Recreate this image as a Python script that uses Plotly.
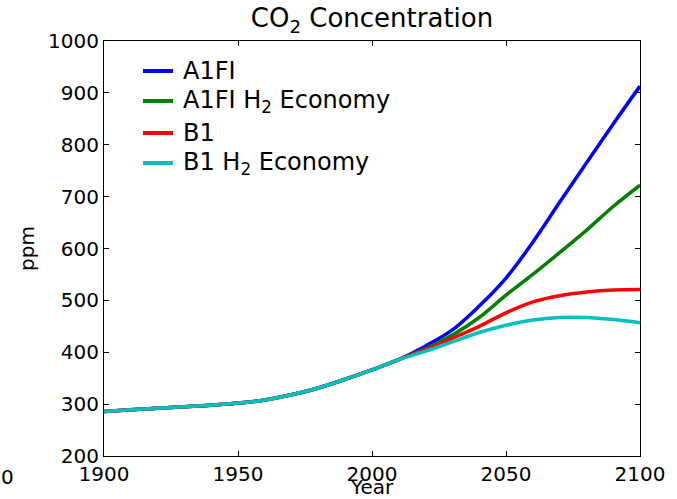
import plotly.graph_objects as go

# Historical record shared by every scenario (ppm)
hist_years = [1900, 1910, 1920, 1930, 1940, 1950, 1960, 1970, 1980, 1990, 2000, 2010]
hist_ppm = [286, 289, 292, 295, 298, 302, 308, 318, 331, 348, 366, 386]

# Scenario projections (ppm)
proj_years = [2020, 2030, 2040, 2050, 2060, 2070, 2080, 2090, 2100]
a1fi = [412, 443, 489, 543, 612, 689, 765, 840, 913]
a1fi_h2 = [407, 433, 467, 510, 550, 592, 635, 681, 722]
b1 = [405, 427, 450, 476, 497, 509, 516, 520, 521]
b1_h2 = [402, 420, 438, 452, 462, 467, 467, 463, 457]

series_names = ["A1FI", "A1FI H<sub>2</sub> Economy", "B1", "B1 H<sub>2</sub> Economy"]
series_colors = ["#0000ff", "#008000", "#ff0000", "#00bfbf"]
series_values = [a1fi, a1fi_h2, b1, b1_h2]

x_ticks = [1900, 1950, 2000, 2050, 2100]
y_ticks = [200, 300, 400, 500, 600, 700, 800, 900, 1000]

FONT = "DejaVu Sans"

# Plot-area geometry in pixels (used to place the key)
PL, PR, PT, PB = 104, 640, 41, 456
W, H = 677, 499


def px_to_paper(px, py):
    return (px - PL) / (PR - PL), (PB - py) / (PB - PT)


fig = go.Figure()
for name, color, vals in zip(series_names, series_colors, series_values):
    fig.add_trace(go.Scatter(
        x=hist_years + proj_years,
        y=hist_ppm + vals,
        mode="lines",
        name=name,
        showlegend=False,
        line=dict(color=color, width=3.5, shape="spline", smoothing=1.0),
    ))

# Key: short coloured line plus label for each scenario
key_rows = [71, 101, 133, 163]
for name, color, row in zip(series_names, series_colors, key_rows):
    x0, y0 = px_to_paper(143, row)
    x1, _ = px_to_paper(173, row)
    fig.add_shape(type="line", xref="paper", yref="paper",
                  x0=x0, x1=x1, y0=y0, y1=y0,
                  line=dict(color=color, width=4))
    tx, ty = px_to_paper(181, row)
    fig.add_annotation(text=name, xref="paper", yref="paper", x=tx, y=ty,
                       xanchor="left", yanchor="middle", showarrow=False,
                       font=dict(family=FONT, size=24, color="#000000"))

axis_common = dict(
    showgrid=False,
    zeroline=False,
    showline=True,
    linecolor="#000000",
    linewidth=1,
    mirror="ticks",
    ticks="inside",
    ticklen=5,
    tickwidth=1,
    tickcolor="#000000",
    tickfont=dict(family=FONT, size=20, color="#000000"),
)

fig.update_layout(
    width=W,
    height=H,
    margin=dict(l=PL, r=W - PR, t=PT, b=H - PB),
    paper_bgcolor="#ffffff",
    plot_bgcolor="#ffffff",
    font=dict(family=FONT, color="#000000"),
    title=dict(
        text="CO<sub>2</sub> Concentration",
        font=dict(family=FONT, size=26, color="#000000"),
        x=(PL + PR) / 2 / W,
        xanchor="center",
        y=1 - 18 / H,
        yanchor="middle",
    ),
    xaxis=dict(
        range=[1900, 2100],
        tickvals=x_ticks,
        ticktext=[str(v) for v in x_ticks],
        title=dict(text="Year", font=dict(family=FONT, size=20), standoff=1),
        automargin=False,
        **axis_common,
    ),
    yaxis=dict(
        range=[200, 1000],
        tickvals=y_ticks,
        ticktext=[str(v) for v in y_ticks],
        title=dict(text="ppm", font=dict(family=FONT, size=20), standoff=8),
        automargin=False,
        **axis_common,
    ),
    showlegend=False,
)

# Stray tick fragment at the lower left edge
fig.add_annotation(
    text="0", x=0, y=0, xref="paper", yref="paper",
    xshift=-PL + 7, yshift=-(H - PB) + 22,
    showarrow=False, xanchor="center", yanchor="middle",
    font=dict(family=FONT, size=20, color="#000000"),
)

fig.write_html("out.html")
